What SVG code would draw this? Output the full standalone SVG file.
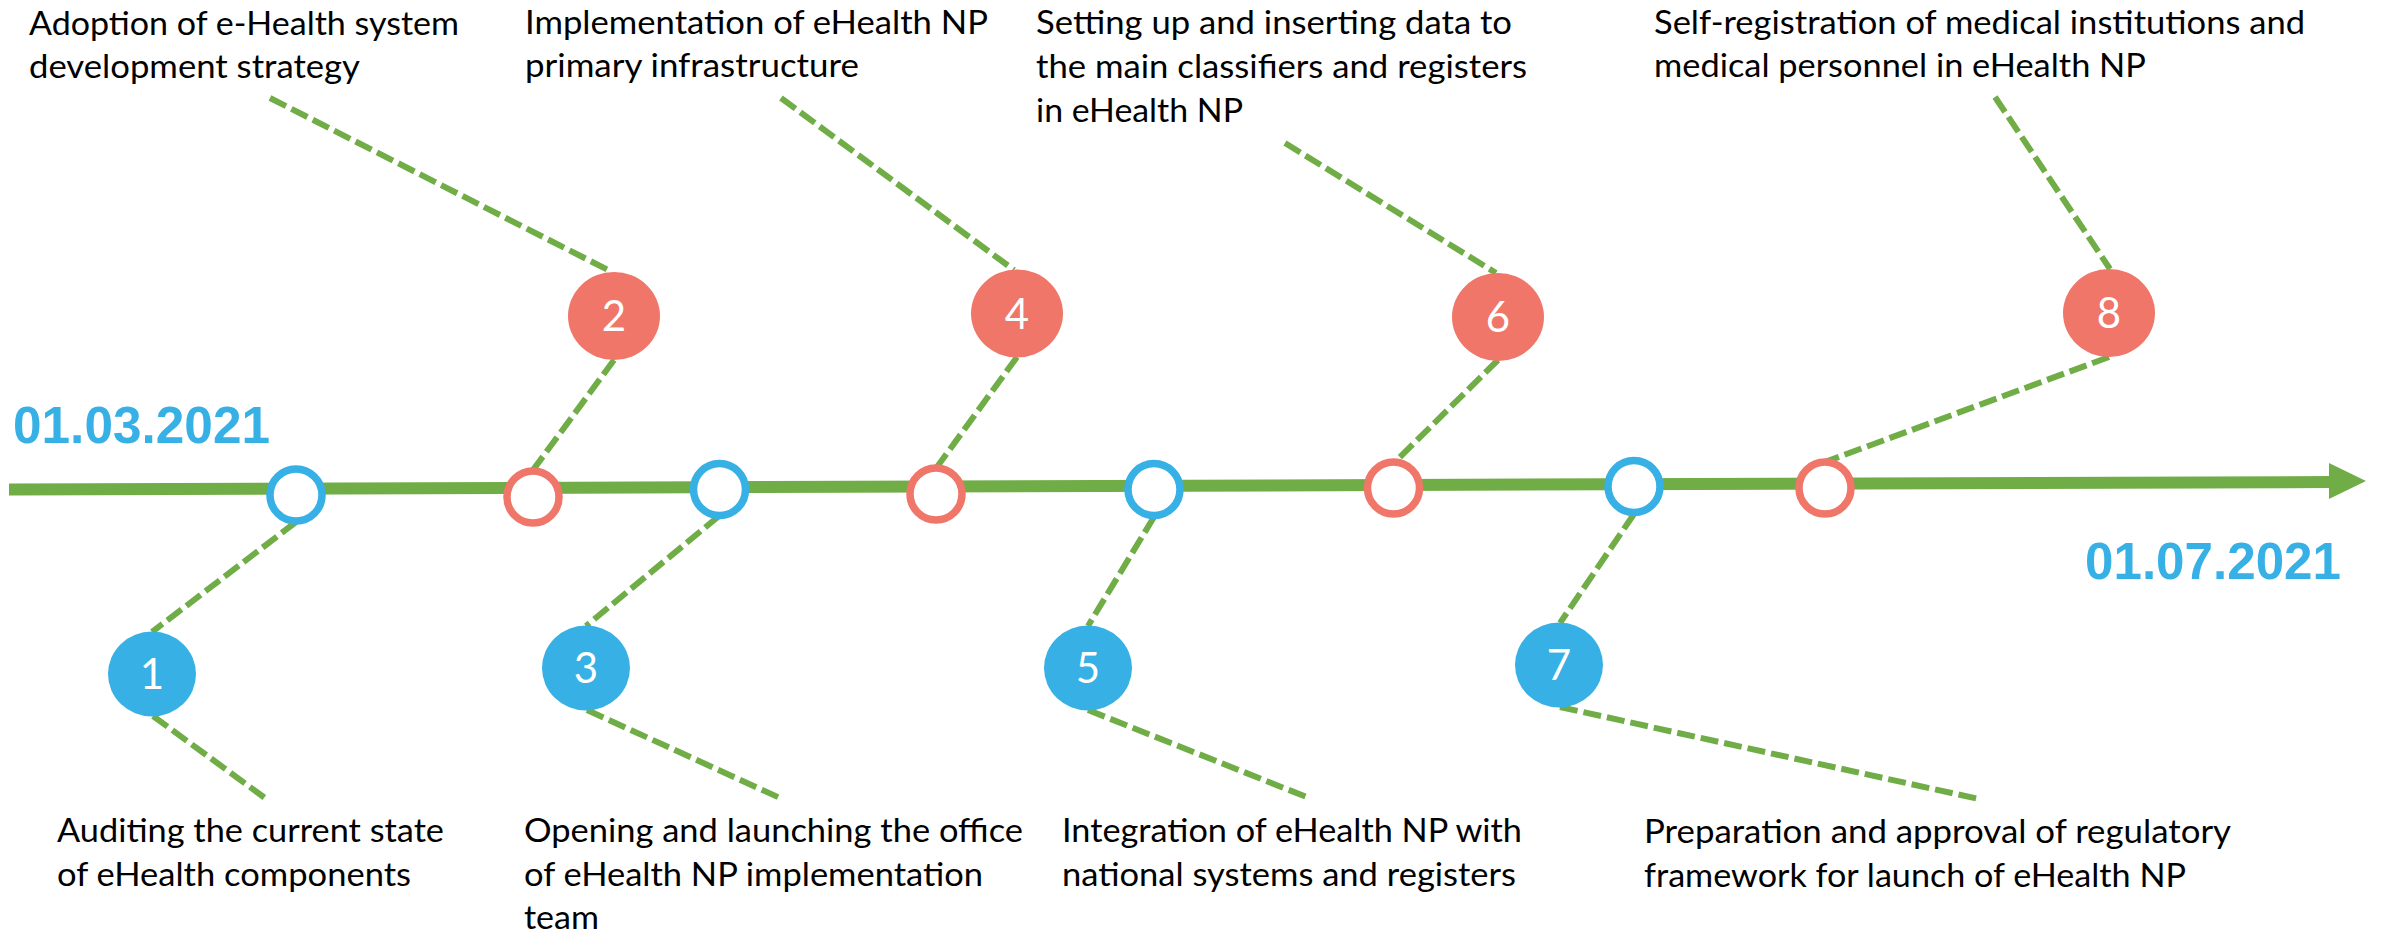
<svg xmlns="http://www.w3.org/2000/svg" width="2384" height="934" viewBox="0 0 2384 934">
<style>
.lbl{font-family:Lato,"Open Sans","Liberation Sans",sans-serif;font-size:32px;fill:#000}
.num{font-family:Lato,"Open Sans","Liberation Sans",sans-serif;font-size:42px;fill:#fff;text-anchor:middle}
.date{font-family:"Liberation Sans",Arial,sans-serif;font-weight:bold;font-size:51px;fill:#36B0E5}
.dash{fill:none;stroke:#70AD47;stroke-width:6;stroke-dasharray:18 6}
.ringB{fill:#fff;stroke:#36B0E5;stroke-width:7.5}
.ringR{fill:#fff;stroke:#EF7669;stroke-width:7.5}
.fillB{fill:#36B0E5}
.fillR{fill:#EF7669}
</style>
<rect width="2384" height="934" fill="#fff"/>
<g id="timeline">
<line x1="9" y1="489.5" x2="2332" y2="482" stroke="#70AD47" stroke-width="12"/>
<polygon points="2329,463 2366,481 2329,499" fill="#70AD47"/>
</g>
<g id="dates">
<text class="date" x="13" y="443" textLength="257" lengthAdjust="spacingAndGlyphs">01.03.2021</text>
<text class="date" x="2085" y="579" textLength="256" lengthAdjust="spacingAndGlyphs">01.07.2021</text>
</g>
<g id="connectors">
<line class="dash" x1="296" y1="522" x2="152" y2="632"/>
<line class="dash" x1="153" y1="716" x2="265" y2="798"/>
<line class="dash" x1="270" y1="98" x2="612" y2="272"/>
<line class="dash" x1="614" y1="360" x2="533" y2="470"/>
<line class="dash" x1="719" y1="516" x2="586" y2="626"/>
<line class="dash" x1="587" y1="710" x2="780" y2="798"/>
<line class="dash" x1="781" y1="98" x2="1014" y2="270"/>
<line class="dash" x1="1017" y1="357" x2="937" y2="467"/>
<line class="dash" x1="1154" y1="517" x2="1088" y2="626"/>
<line class="dash" x1="1088" y1="710" x2="1309" y2="798"/>
<line class="dash" x1="1285" y1="143" x2="1496" y2="273"/>
<line class="dash" x1="1498" y1="360" x2="1397" y2="460"/>
<line class="dash" x1="1634" y1="514" x2="1560" y2="623"/>
<line class="dash" x1="1560" y1="707" x2="1979" y2="799"/>
<line class="dash" x1="1995" y1="97" x2="2110" y2="269"/>
<line class="dash" x1="2109" y1="357" x2="1825" y2="462"/>
</g>
<g id="ring1"><circle class="ringB" cx="296" cy="495" r="26"/></g>
<g id="ring2"><circle class="ringR" cx="533" cy="497" r="26"/></g>
<g id="ring3"><circle class="ringB" cx="719.5" cy="489.5" r="26"/></g>
<g id="ring4"><circle class="ringR" cx="936" cy="494" r="26"/></g>
<g id="ring5"><circle class="ringB" cx="1154" cy="489.5" r="26"/></g>
<g id="ring6"><circle class="ringR" cx="1393.5" cy="488" r="26"/></g>
<g id="ring7"><circle class="ringB" cx="1634" cy="486.5" r="26"/></g>
<g id="ring8"><circle class="ringR" cx="1825" cy="488" r="26"/></g>
<g id="node1">
<ellipse class="fillB" cx="152" cy="674" rx="44" ry="42.5"/>
<text class="num" x="152" y="689">1</text>
<text class="lbl" x="57" y="842" textLength="387" lengthAdjust="spacingAndGlyphs">Auditing the current state</text>
<text class="lbl" x="57" y="886" textLength="354" lengthAdjust="spacingAndGlyphs">of eHealth components</text>
</g>
<g id="node2">
<ellipse class="fillR" cx="614" cy="316" rx="46" ry="44"/>
<text class="num" x="614" y="331">2</text>
<text class="lbl" x="29" y="35" textLength="430" lengthAdjust="spacingAndGlyphs">Adoption of e-Health system</text>
<text class="lbl" x="29" y="78" textLength="331" lengthAdjust="spacingAndGlyphs">development strategy</text>
</g>
<g id="node3">
<ellipse class="fillB" cx="586" cy="668" rx="44" ry="42.5"/>
<text class="num" x="586" y="683">3</text>
<text class="lbl" x="524" y="842" textLength="499" lengthAdjust="spacingAndGlyphs">Opening and launching the office</text>
<text class="lbl" x="524" y="886" textLength="459" lengthAdjust="spacingAndGlyphs">of eHealth NP implementation</text>
<text class="lbl" x="524" y="929" textLength="75" lengthAdjust="spacingAndGlyphs">team</text>
</g>
<g id="node4">
<ellipse class="fillR" cx="1017" cy="313.5" rx="46" ry="44"/>
<text class="num" x="1017" y="328.5">4</text>
<text class="lbl" x="525" y="34" textLength="463" lengthAdjust="spacingAndGlyphs">Implementation of eHealth NP</text>
<text class="lbl" x="525" y="77" textLength="334" lengthAdjust="spacingAndGlyphs">primary infrastructure</text>
</g>
<g id="node5">
<ellipse class="fillB" cx="1088" cy="668" rx="44" ry="42.5"/>
<text class="num" x="1088" y="683">5</text>
<text class="lbl" x="1062" y="842" textLength="460" lengthAdjust="spacingAndGlyphs">Integration of eHealth NP with</text>
<text class="lbl" x="1062" y="886" textLength="454" lengthAdjust="spacingAndGlyphs">national systems and registers</text>
</g>
<g id="node6">
<ellipse class="fillR" cx="1498" cy="317" rx="46" ry="44"/>
<text class="num" x="1498" y="332">6</text>
<text class="lbl" x="1036" y="34" textLength="476" lengthAdjust="spacingAndGlyphs">Setting up and inserting data to</text>
<text class="lbl" x="1036" y="78" textLength="491" lengthAdjust="spacingAndGlyphs">the main classifiers and registers</text>
<text class="lbl" x="1036" y="122" textLength="207" lengthAdjust="spacingAndGlyphs">in eHealth NP</text>
</g>
<g id="node7">
<ellipse class="fillB" cx="1559" cy="665" rx="44" ry="42.5"/>
<text class="num" x="1559" y="680">7</text>
<text class="lbl" x="1644" y="843" textLength="587" lengthAdjust="spacingAndGlyphs">Preparation and approval of regulatory</text>
<text class="lbl" x="1644" y="887" textLength="542" lengthAdjust="spacingAndGlyphs">framework for launch of eHealth NP</text>
</g>
<g id="node8">
<ellipse class="fillR" cx="2109" cy="313" rx="46" ry="44"/>
<text class="num" x="2109" y="328">8</text>
<text class="lbl" x="1654" y="34" textLength="651" lengthAdjust="spacingAndGlyphs">Self-registration of medical institutions and</text>
<text class="lbl" x="1654" y="77" textLength="492" lengthAdjust="spacingAndGlyphs">medical personnel in eHealth NP</text>
</g>
</svg>
